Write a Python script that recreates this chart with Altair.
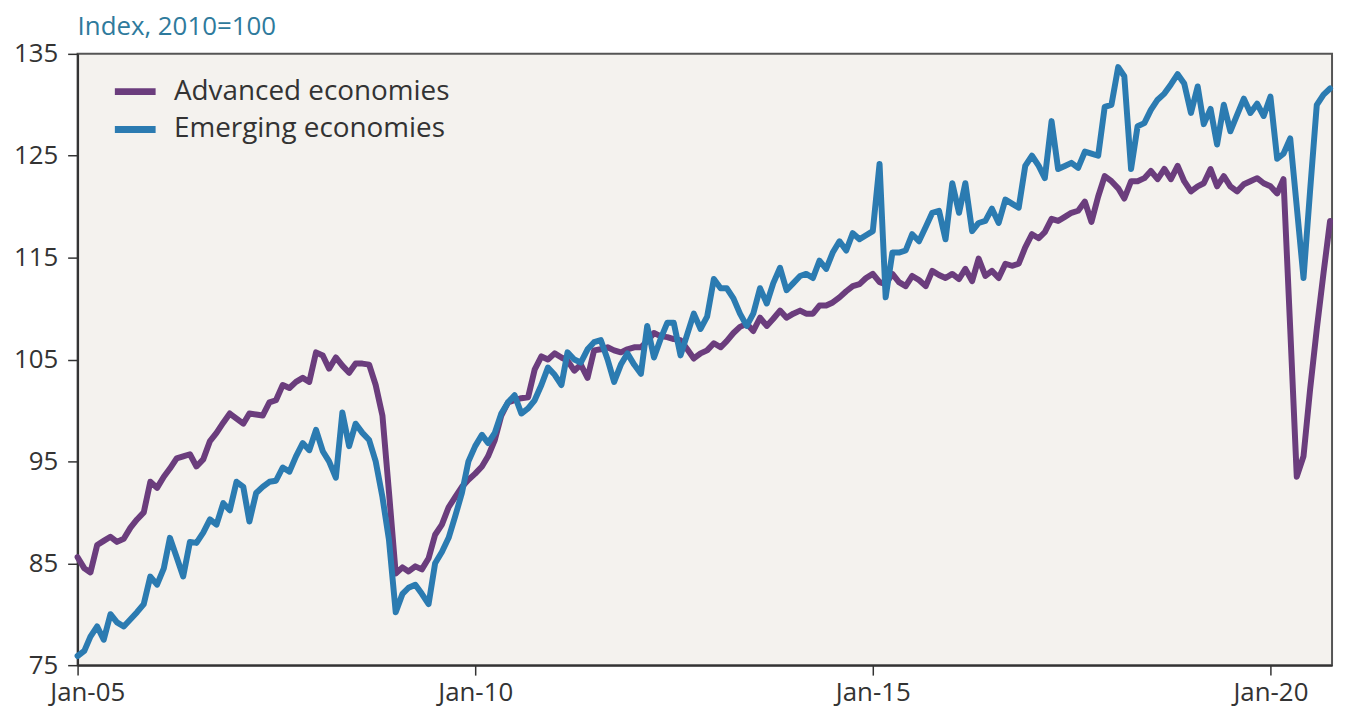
import altair as alt
import pandas as pd

# Monthly index values, Jan-2005 onwards (2010=100)
advanced = [
    85.6, 84.5, 84.1, 86.8, 87.2, 87.6, 87.1, 87.4, 88.5, 89.3,
    90.0, 93.0, 92.4, 93.5, 94.3, 95.3, 95.5, 95.7, 94.5, 95.2,
    97.0, 97.8, 98.8, 99.7, 99.2, 98.7, 99.7, 99.6, 99.5, 100.8,
    101.0, 102.5, 102.2, 102.8, 103.2, 102.8, 105.7, 105.4, 104.1, 105.2,
    104.4, 103.7, 104.6, 104.6, 104.5, 102.5, 99.5, 92.0, 84.0, 84.6,
    84.2, 84.7, 84.4, 85.5, 87.8, 88.8, 90.5, 91.5, 92.5, 93.2,
    93.8, 94.5, 95.5, 97.1, 99.5, 100.8, 101.0, 101.2, 101.3, 104.0,
    105.3, 105.0, 105.6, 105.2, 104.9, 103.9, 104.5, 103.2, 105.9, 106.0,
    106.2, 105.9, 105.7, 106.0, 106.2, 106.2, 106.8, 107.6, 107.3, 107.2,
    107.0, 106.9, 106.0, 105.1, 105.6, 105.9, 106.6, 106.2, 106.8, 107.6,
    108.2, 108.5, 107.8, 109.1, 108.3, 109.0, 109.8, 109.1, 109.5, 109.8,
    109.5, 109.5, 110.3, 110.3, 110.6, 111.1, 111.7, 112.2, 112.4, 113.0,
    113.4, 112.6, 112.4, 113.4, 112.6, 112.2, 113.2, 112.8, 112.2, 113.7,
    113.3, 113.0, 113.4, 112.9, 113.9, 112.7, 114.9, 113.2, 113.7, 113.0,
    114.4, 114.2, 114.4, 116.0, 117.3, 116.9, 117.5, 118.8, 118.6, 119.0,
    119.4, 119.6, 120.5, 118.5, 121.0, 123.0, 122.5, 121.8, 120.8, 122.5,
    122.5, 122.8, 123.5, 122.7, 123.7, 122.7, 124.0, 122.5, 121.5, 122.0,
    122.3, 123.7, 122.0, 123.0, 122.0, 121.5, 122.2, 122.5, 122.8, 122.3,
    122.0, 121.3, 122.7, 108.0, 93.5, 95.5, 102.0, 108.0, 113.5, 118.6,
]

emerging = [
    75.9, 76.4, 77.8, 78.8, 77.5, 80.0, 79.2, 78.8, 79.5, 80.2,
    81.0, 83.7, 82.9, 84.5, 87.5, 85.6, 83.7, 87.1, 87.0, 88.0,
    89.3, 88.8, 90.9, 90.2, 93.0, 92.5, 89.1, 91.9, 92.5, 93.0,
    93.1, 94.4, 94.0, 95.5, 96.8, 96.1, 98.1, 96.0, 95.0, 93.4,
    99.8, 96.5, 98.7, 97.8, 97.1, 95.0, 91.5, 87.3, 80.2, 82.0,
    82.6, 82.9, 82.0, 81.0, 85.0, 86.1, 87.5, 89.6, 91.9, 95.0,
    96.5, 97.6, 96.8, 97.8, 99.7, 100.8, 101.5, 99.7, 100.2, 101.0,
    102.5, 104.2, 103.5, 102.5, 105.7, 105.0, 104.7, 106.0, 106.7, 106.9,
    105.0, 102.8, 104.5, 105.6, 104.5, 103.6, 108.3, 105.2, 107.0, 108.6,
    108.6, 105.4, 107.5, 109.5, 108.0, 109.2, 112.9, 112.0, 112.0, 111.0,
    109.5, 108.3, 109.5, 112.0, 110.5, 112.5, 114.0, 111.8, 112.5, 113.2,
    113.4, 113.0, 114.7, 113.9, 115.5, 116.6, 115.7, 117.4, 116.8, 117.2,
    117.6, 124.2, 111.1, 115.5, 115.5, 115.7, 117.3, 116.6, 118.0, 119.4,
    119.6, 116.8, 122.3, 119.4, 122.3, 117.6, 118.4, 118.6, 119.8, 118.4,
    120.7, 120.3, 119.9, 124.0, 125.0, 124.0, 122.8, 128.4, 123.7, 124.0,
    124.3, 123.8, 125.4, 125.2, 125.0, 129.8, 130.0, 133.7, 132.8, 123.7,
    127.9, 128.2, 129.5, 130.5, 131.1, 132.0, 133.0, 132.1, 129.2, 131.8,
    128.1, 129.6, 126.1, 130.0, 127.4, 129.0, 130.6, 129.2, 130.1, 128.9,
    130.8, 124.7, 125.2, 126.7, 120.0, 113.0, 121.5, 130.0, 131.0, 131.6,
]

series_names = ["Advanced economies", "Emerging economies"]
series_colors = ["#6b3d7d", "#2b7bb1"]
y_ticks = [75, 85, 95, 105, 115, 125, 135]
x_tick_years = [2005, 2010, 2015, 2020]
title_text = "Index, 2010=100"

months = [f"{2005 + i // 12:04d}-{i % 12 + 1:02d}-01" for i in range(len(advanced))]
df = pd.DataFrame({
    "date": months + months,
    "value": advanced + emerging,
    "series": [series_names[0]] * len(advanced) + [series_names[1]] * len(emerging),
})

FONT = "Open Sans"
TXT = "#333333"

chart = alt.Chart(df).mark_line(strokeWidth=6, strokeJoin="round", strokeCap="round").encode(
    x=alt.X(
        "date:T",
        scale=alt.Scale(
            type="utc",
            domain=[alt.DateTime(year=2005, month=1, date=1, utc=True),
                    alt.DateTime(year=2020, month=10, date=10, utc=True)],
        ),
        axis=alt.Axis(
            values=[alt.DateTime(year=y, month=1, date=1, utc=True) for y in x_tick_years],
            labelExpr="utcFormat(datum.value, '%b-%y')", title=None, grid=False,
            labelFontSize=26, labelColor=TXT, labelFont=FONT, labelPadding=5,
            tickSize=10, tickColor=TXT, tickWidth=1.5,
            domainColor=TXT, domainWidth=2,
            labelFlush=True, labelFlushOffset=28,
        ),
    ),
    y=alt.Y(
        "value:Q",
        scale=alt.Scale(domain=[75, 135], nice=False, zero=False),
        axis=alt.Axis(
            values=y_ticks, title=None, grid=False,
            labelFontSize=26, labelColor=TXT, labelFont=FONT, labelPadding=10,
            tickSize=10, tickColor=TXT, tickWidth=1.5,
            domainColor=TXT, domainWidth=2,
        ),
    ),
    color=alt.Color(
        "series:N",
        scale=alt.Scale(domain=series_names, range=series_colors),
        legend=alt.Legend(
            title=None, orient="none", legendX=34, legendY=14, padding=0,
            symbolType="stroke", symbolStrokeWidth=7, symbolSize=1681,
            labelFontSize=28, labelFont=FONT, labelColor=TXT, labelLimit=0,
            labelOffset=15, rowPadding=0,
        ),
    ),
).properties(
    width=1262,
    height=615,
    background="white",
    title=alt.TitleParams(
        title_text, anchor="start", frame="group", fontSize=26, font=FONT,
        fontWeight="normal", color="#2e7a9c", offset=1,
    ),
    autosize=alt.AutoSizeParams(type="none"),
    padding={"left": 70, "top": 44, "right": 6, "bottom": 48},
).configure_view(
    fill="#f4f2ee", stroke="#555555", strokeWidth=2,
)

chart.save("out.html", embed_options={"renderer": "svg", "actions": False})
